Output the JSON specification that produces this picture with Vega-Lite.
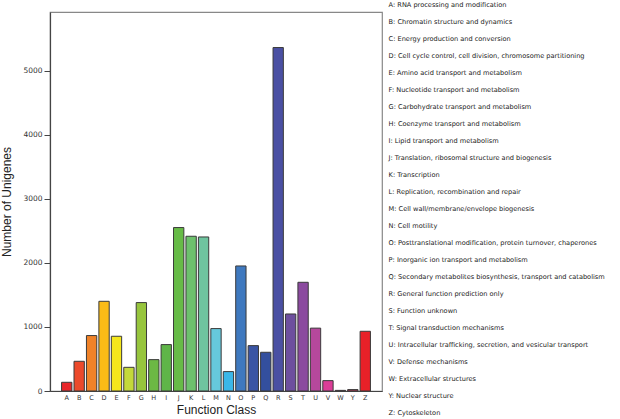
{
  "$schema": "https://vega.github.io/schema/vega-lite/v6.json",
  "autosize": {"type": "none"},
  "padding": {"left": 50, "top": 12, "right": 238, "bottom": 28},
  "width": 332,
  "height": 379,
  "background": "white",
  "config": {
    "view": {"stroke": "#888", "strokeWidth": 1.2},
    "font": "Liberation Sans"
  },
  "data": {
    "values": [
      {"cls": "A", "name": "A: RNA processing and modification", "count": 136},
      {"cls": "B", "name": "B: Chromatin structure and dynamics", "count": 464},
      {"cls": "C", "name": "C: Energy production and conversion", "count": 866},
      {"cls": "D", "name": "D: Cell cycle control, cell division, chromosome partitioning", "count": 1401},
      {"cls": "E", "name": "E: Amino acid transport and metabolism", "count": 855},
      {"cls": "F", "name": "F: Nucleotide transport and metabolism", "count": 370},
      {"cls": "G", "name": "G: Carbohydrate transport and metabolism", "count": 1381},
      {"cls": "H", "name": "H: Coenzyme transport and metabolism", "count": 490},
      {"cls": "I", "name": "I: Lipid transport and metabolism", "count": 725},
      {"cls": "J", "name": "J: Translation, ribosomal structure and biogenesis", "count": 2553},
      {"cls": "K", "name": "K: Transcription", "count": 2417},
      {"cls": "L", "name": "L: Replication, recombination and repair", "count": 2406},
      {"cls": "M", "name": "M: Cell wall/membrane/envelope biogenesis", "count": 975},
      {"cls": "N", "name": "N: Cell motility", "count": 303},
      {"cls": "O", "name": "O: Posttranslational modification, protein turnover, chaperones", "count": 1953},
      {"cls": "P", "name": "P: Inorganic ion transport and metabolism", "count": 709},
      {"cls": "Q", "name": "Q: Secondary metabolites biosynthesis, transport and catabolism", "count": 605},
      {"cls": "R", "name": "R: General function prediction only", "count": 5365},
      {"cls": "S", "name": "S: Function unknown", "count": 1203},
      {"cls": "T", "name": "T: Signal transduction mechanisms", "count": 1698},
      {"cls": "U", "name": "U: Intracellular trafficking, secretion, and vesicular transport", "count": 982},
      {"cls": "V", "name": "V: Defense mechanisms", "count": 162},
      {"cls": "W", "name": "W: Extracellular structures", "count": 10},
      {"cls": "Y", "name": "Y: Nuclear structure", "count": 22},
      {"cls": "Z", "name": "Z: Cytoskeleton", "count": 933}
    ]
  },
  "mark": {"type": "bar", "stroke": "#3a3a3a", "strokeWidth": 1},
  "encoding": {
    "x": {
      "field": "cls",
      "type": "nominal",
      "sort": null,
      "scale": {"paddingInner": 0.17, "paddingOuter": 0.93},
      "axis": {
        "title": "Function Class",
        "titleFont": "Liberation Sans",
        "titleFontSize": 12,
        "titleFontWeight": "normal",
        "titleColor": "#222",
        "titlePadding": 4,
        "labelAngle": 0,
        "labelFont": "DejaVu Sans",
        "labelFontSize": 6.5,
        "labelColor": "#333",
        "labelPadding": 3,
        "ticks": false,
        "domainColor": "#444",
        "domainWidth": 1.2
      }
    },
    "y": {
      "field": "count",
      "type": "quantitative",
      "scale": {"domain": [0, 5920], "nice": false},
      "axis": {
        "title": "Number of Unigenes",
        "titleFont": "Liberation Sans",
        "titleFontSize": 12,
        "titleFontWeight": "normal",
        "titleColor": "#222",
        "titlePadding": 9,
        "format": "d",
        "values": [0, 1000, 2000, 3000, 4000, 5000],
        "grid": false,
        "labelFont": "DejaVu Sans",
        "labelFontSize": 7.5,
        "labelColor": "#333",
        "labelPadding": 2,
        "tickSize": 6,
        "tickColor": "#444",
        "domainColor": "#444",
        "domainWidth": 1.2
      }
    },
    "color": {
      "field": "name",
      "type": "nominal",
      "scale": {
        "range": ["#e8262a", "#ec4a2b", "#f08228", "#fbbb16", "#f5e71c", "#c4d93a", "#97c53d", "#6cb844", "#5fb548", "#67bb47", "#6dc16d", "#6fc49f", "#66c9dc", "#3bb7e8", "#3f79bf", "#3a55a4", "#334f9e", "#4a50a3", "#6d4f9e", "#8b4a9f", "#b5489c", "#db3d97", "#9b3050", "#b33a55", "#e82128"]
      },
      "legend": {
        "title": null,
        "orient": "none",
        "legendX": 332,
        "legendY": -10.5,
        "symbolSize": 0,
        "symbolOpacity": 0,
        "symbolStrokeWidth": 0,
        "labelOffset": 0,
        "labelFont": "DejaVu Sans",
        "labelFontSize": 6.6,
        "labelColor": "#222",
        "labelLimit": 300,
        "rowPadding": 10,
        "columns": 1
      }
    }
  }
}
